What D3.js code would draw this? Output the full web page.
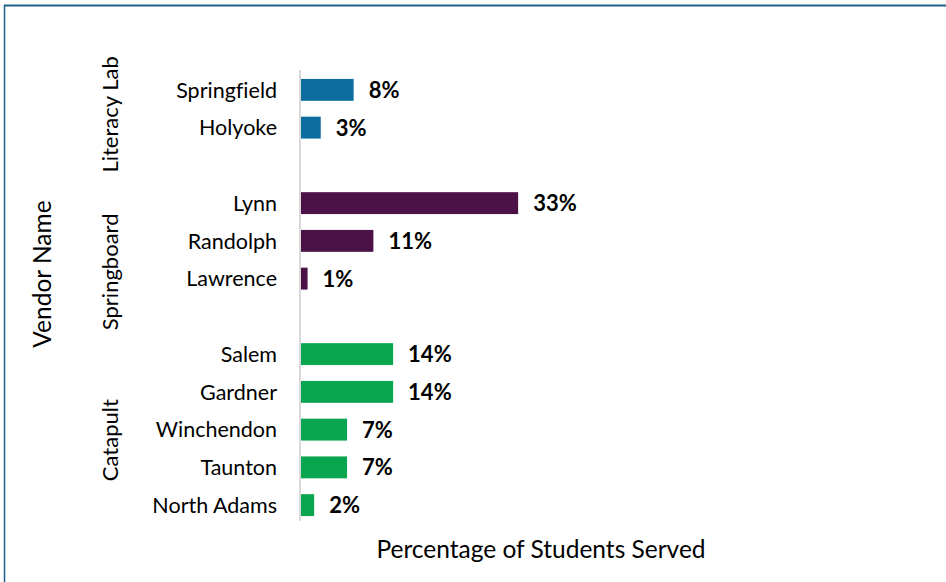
<!DOCTYPE html>
<html><head><meta charset="utf-8">
<script src="https://cdn.jsdelivr.net/npm/d3@7/dist/d3.min.js"></script>
<style>
html,body{margin:0;padding:0;background:#fff;}
svg{display:block;font-family:Lato,"Open Sans",sans-serif;font-variant-ligatures:none;font-feature-settings:"liga" 0;}
</style></head>
<body>
<svg id="chart" width="946" height="582"></svg>
<script>
// Data
const groups = ["Literacy Lab", "Springboard", "Catapult"];
const literacyLab = [["Springfield", 8], ["Holyoke", 3]];
const springboard = [["Lynn", 33], ["Randolph", 11], ["Lawrence", 1]];
const catapult = [["Salem", 14], ["Gardner", 14], ["Winchendon", 7], ["Taunton", 7], ["North Adams", 2]];
const groupColors = ["#0b6e9f", "#4b1248", "#0aa64f"];
const groupLabelSlot = [0.65, 4.82, 9.28];

const seriesList = [literacyLab, springboard, catapult];
// build slot list with blank gaps between groups
const rows = [];
seriesList.forEach((s, gi) => {
  if (gi > 0) rows.push({key: "gap" + gi, gap: true});
  s.forEach(([name, v]) => rows.push({key: name, name, value: v, group: gi}));
});

const svg = d3.select("#chart");
const W = 946, H = 582;

// border
svg.append("line").attr("x1", 4).attr("x2", W).attr("y1", 5.5).attr("y2", 5.5)
  .attr("stroke", "#1f5f8b").attr("stroke-width", 2);
svg.append("line").attr("x1", 4.5).attr("x2", 4.5).attr("y1", 5).attr("y2", H)
  .attr("stroke", "#1f5f8b").attr("stroke-width", 1.5);

const x0 = 301;
const x = d3.scaleLinear().domain([0, 1]).range([x0, x0 + 658]);
const y = d3.scaleBand().domain(rows.map(r => r.key)).range([71, 524]).paddingInner(0.42).paddingOuter(0.21);

// axis line
svg.append("line").attr("x1", 300).attr("x2", 300).attr("y1", 70).attr("y2", 521)
  .attr("stroke", "#d9d9d9").attr("stroke-width", 2);

const data = rows.filter(r => !r.gap);

svg.selectAll("rect.bar").data(data).join("rect")
  .attr("class", "bar")
  .attr("x", x0)
  .attr("y", d => y(d.key))
  .attr("width", d => x(d.value / 100) - x0)
  .attr("height", y.bandwidth())
  .attr("fill", d => groupColors[d.group]);

svg.selectAll("text.val").data(data).join("text")
  .attr("class", "val")
  .attr("x", d => x(d.value / 100) + 15)
  .attr("y", d => y(d.key) + y.bandwidth() / 2)
  .attr("dy", "0.36em")
  .attr("font-size", 22).attr("font-weight", "bold").attr("fill", "#000")
  .text(d => d.value + "%");

svg.selectAll("text.cat").data(data).join("text")
  .attr("class", "cat")
  .attr("x", 277)
  .attr("y", d => y(d.key) + y.bandwidth() / 2)
  .attr("dy", "0.36em")
  .attr("text-anchor", "end")
  .attr("font-size", 21.5).attr("fill", "#000")
  .text(d => d.name);

// group labels
const step = y.step();
const firstCenter = y(rows[0].key) + y.bandwidth() / 2;
svg.selectAll("text.grp").data(groups).join("text")
  .attr("class", "grp")
  .attr("transform", (g, i) => `translate(110,${firstCenter + step * groupLabelSlot[i]}) rotate(-90)`)
  .attr("dy", "0.36em")
  .attr("text-anchor", "middle")
  .attr("font-size", 22).attr("fill", "#000")
  .text(g => g);

// axis titles
svg.append("text")
  .attr("transform", "translate(42,274) rotate(-90)")
  .attr("dy", "0.36em")
  .attr("text-anchor", "middle")
  .attr("font-size", 24.5).attr("fill", "#000")
  .text("Vendor Name");

svg.append("text")
  .attr("x", 541).attr("y", 549)
  .attr("dy", "0.36em")
  .attr("text-anchor", "middle")
  .attr("font-size", 24.5).attr("fill", "#000")
  .text("Percentage of Students Served");
</script>
</body></html>
